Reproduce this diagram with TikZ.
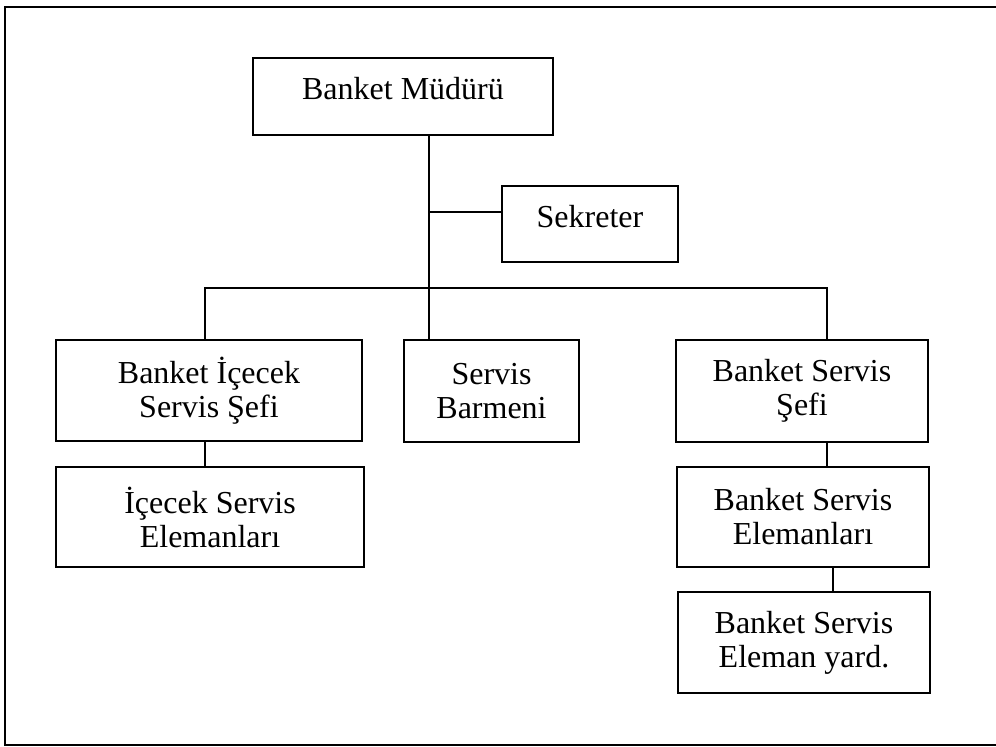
\documentclass[tikz,border=0pt]{standalone}
\usepackage{fontspec}
\setmainfont{Liberation Serif}
\usetikzlibrary{positioning}

\tikzset{
  unit/.style={draw, line width=0.9pt, rectangle, inner sep=0pt, align=center,
    font=\fontsize{16}{17}\selectfont},
  oneline/.style={text height=11pt, text depth=8pt},
  link/.style={line width=0.8pt},
}

\begin{document}
\begin{tikzpicture}[x=0.5pt, y=-0.5pt]
  \useasboundingbox (0,0) rectangle (996,746);
  % outer frame (right edge is cut off)
  \draw[line width=1.2pt] (996,7) -- (5,7) -- (5,745) -- (996,745);

  \node[unit, oneline, minimum width=150pt, minimum height=38.5pt] (mud) at (403,96.5) {Banket Müdürü};
  \node[unit, oneline, minimum width=88pt, minimum height=38pt] (sek) at (590,224) {Sekreter};
  % second row
  \node[unit, minimum width=153pt, minimum height=50.5pt] (ic1) at (209,390.5) {Banket İçecek\\Servis Şefi};
  \node[unit, minimum width=87.5pt, minimum height=51pt] (bar) at (491.5,391) {Servis\\Barmeni};
  \node[unit, minimum width=126pt, minimum height=51pt] (bs1) at (802,391) {Banket Servis\\Şefi};
  % lower rows
  \node[unit, minimum width=154pt, minimum height=50pt] (ic2) at (210,517) {İçecek Servis\\Elemanları};
  \node[unit, minimum width=126pt, minimum height=50pt] (bs2) at (803,517) {Banket Servis\\Elemanları};
  \node[unit, minimum width=126pt, minimum height=50.5pt] (bs3) at (804,642.5) {Banket Servis\\Eleman yard.};

  % joints of the lines
  \coordinate (stem) at (429,288);
  \coordinate (sekj) at (429,212);
  \coordinate (busl) at (205,288);
  \coordinate (busr) at (827,288);
  \coordinate (yardj) at (833,600);

  \draw[link] (mud.south -| stem) -- (bar.north -| stem);
  \draw[link] (sekj) -- (sekj -| sek.west);
  \draw[link] (ic1.north -| busl) -- (busl) -- (busr) -- (bs1.north -| busr);
  \draw[link] (ic1.south -| busl) -- (ic2.north -| busl);
  \draw[link] (bs1.south -| busr) -- (bs2.north -| busr);
  \draw[link] (bs2.south -| yardj) -- (bs3.north -| yardj);
\end{tikzpicture}
\end{document}
